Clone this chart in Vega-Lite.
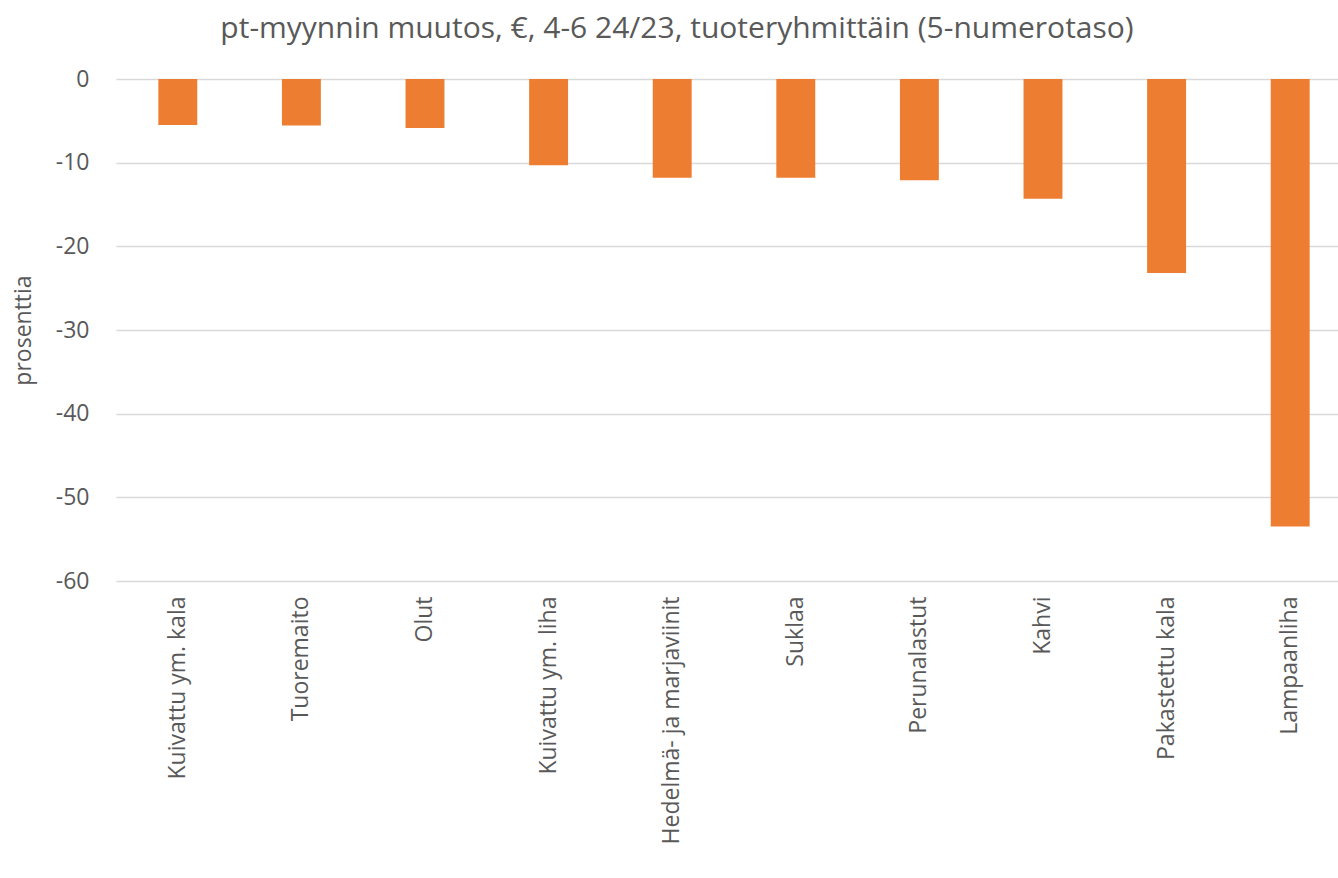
{
  "$schema": "https://vega.github.io/schema/vega-lite/v6.json",
  "width": 1236,
  "height": 502,
  "autosize": {"type": "none"},
  "padding": {"left": 116, "top": 79, "right": -14, "bottom": 297},
  "background": "white",
  "title": {
    "text": "pt-myynnin muutos, €, 4-6 24/23, tuoteryhmittäin (5-numerotaso)",
    "font": "Open Sans",
    "fontSize": 30,
    "fontWeight": "normal",
    "color": "#595959",
    "anchor": "middle",
    "dx": -57,
    "offset": 24
  },
  "data": {
    "values": [
      {"ryhma": "Kuivattu ym. kala", "muutos": -5.5},
      {"ryhma": "Tuoremaito", "muutos": -5.55},
      {"ryhma": "Olut", "muutos": -5.85},
      {"ryhma": "Kuivattu ym. liha", "muutos": -10.3},
      {"ryhma": "Hedelmä- ja marjaviinit", "muutos": -11.8},
      {"ryhma": "Suklaa", "muutos": -11.8},
      {"ryhma": "Perunalastut", "muutos": -12.1},
      {"ryhma": "Kahvi", "muutos": -14.3},
      {"ryhma": "Pakastettu kala", "muutos": -23.2},
      {"ryhma": "Lampaanliha", "muutos": -53.5}
    ]
  },
  "mark": {"type": "bar", "color": "#ED7D31"},
  "encoding": {
    "x": {
      "field": "ryhma",
      "type": "nominal",
      "sort": null,
      "scale": {"paddingInner": 0.685, "paddingOuter": 0.3425},
      "axis": {
        "title": null,
        "labelAngle": -90,
        "labelFont": "Open Sans",
        "labelFontSize": 23,
        "labelColor": "#595959",
        "labelPadding": 15,
        "labelLimit": 400,
        "ticks": false,
        "domain": false,
        "grid": false
      }
    },
    "y": {
      "field": "muutos",
      "type": "quantitative",
      "scale": {"domain": [-60, 0], "nice": false},
      "axis": {
        "title": "prosenttia",
        "titleFont": "Open Sans",
        "titleFontSize": 23,
        "titleFontWeight": "normal",
        "titleColor": "#595959",
        "titlePadding": 20,
        "values": [0, -10, -20, -30, -40, -50, -60],
        "labelExpr": "'' + datum.value",
        "labelFont": "Open Sans",
        "labelFontSize": 23,
        "labelColor": "#595959",
        "labelPadding": 27,
        "ticks": false,
        "domain": false,
        "grid": true,
        "gridColor": "#D9D9D9",
        "gridWidth": 1.3
      }
    }
  },
  "config": {"view": {"stroke": null}}
}
